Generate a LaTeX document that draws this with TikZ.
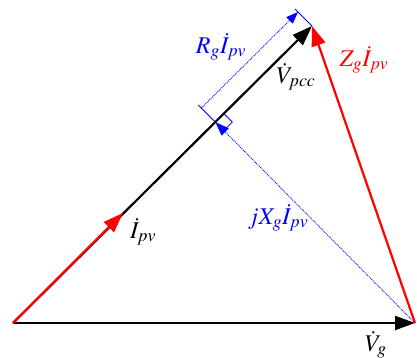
\documentclass[tikz,border=0pt]{standalone}
\usepackage{mathptmx}
\usepackage{fix-cm}
\usetikzlibrary{arrows.meta,calc}
\begin{document}
\begin{tikzpicture}[x=1pt,y=-1pt,
  vec/.style={line width=2.2pt,-{Triangle[length=20pt,width=14pt]}},
  blk/.style={vec,black},
  redvec/.style={vec,red},
  dotblue/.style={blue,densely dotted,line width=0.9pt},
  thinblue/.style={blue,line width=0.8pt},
  lbl/.style={font=\fontsize{24}{28}\selectfont,inner sep=0pt}]
\useasboundingbox (0,0) rectangle (417,358);
\coordinate (O) at (13,323);
\coordinate (G) at (415,323);
\coordinate (P) at (312,26);
\coordinate (I) at (123,213);
\coordinate (F) at ($(O)!(G)!(P)$);
\coordinate (Fa) at ($(F)+(-14,-14)$);
\coordinate (Pa) at ($(P)+(-14,-14)$);
\coordinate (Fb) at ($(F)+(-17,-17)$);
\coordinate (Pb) at ($(P)+(-17,-17)$);
% right-angle marker
\draw[thinblue] ($(F)+(8.5,-8.5)$) -- ($(F)+(17,0)$) -- ($(F)+(8.5,8.5)$);
% dimension ticks and line
\draw[thinblue] (F) -- (Fb);
\draw[thinblue] (P) -- (Pb);
\draw[dotblue,-{Triangle[length=12pt,width=9pt]}] (Fa) -- (Pa);
% jXg line
\draw[dotblue,-{Triangle[length=14pt,width=10pt]}] (G) -- (F);
% vectors
\draw[blk] (O) -- (G);
\draw[blk] (O) -- (P);
\draw[redvec] (G) -- (P);
\draw[redvec] (O) -- (I);
% labels
\node[lbl,blue] (lR) at (221,47) {$R_g\dot{I}_{pv}$};
\node[lbl] (lVp) at (296,77) {$\dot{V}_{pcc}$};
\node[lbl,red] (lZ) at (364,60) {$Z_g\dot{I}_{pv}$};
\node[lbl,blue] (lX) at (278,218) {$jX_g\dot{I}_{pv}$};
\node[lbl] (lI) at (143,232) {$\dot{I}_{pv}$};
\node[lbl] (lVg) at (376,345) {$\dot{V}_g$};
\end{tikzpicture}
\end{document}
